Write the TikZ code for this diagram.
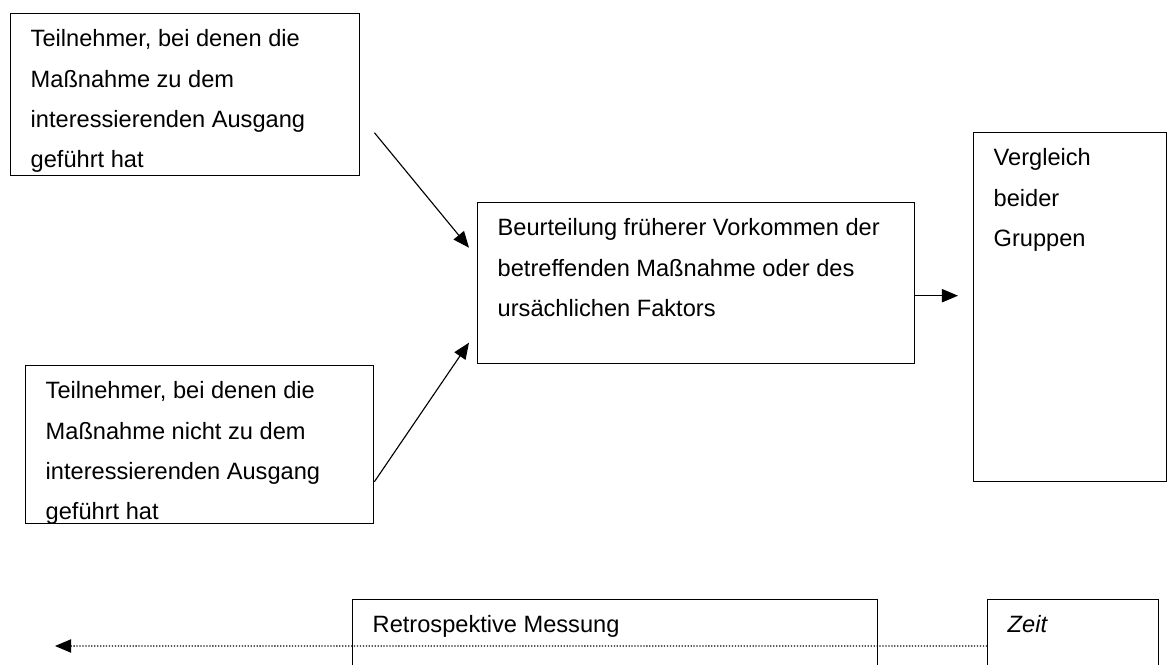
\documentclass[tikz,border=0pt]{standalone}
\usepackage{fontspec}
\setmainfont{Liberation Sans}
\usetikzlibrary{arrows.meta,calc}

% text block of a box: fixed size, text from the top
\newcommand{\boxtext}[3]{\parbox[t][#2][t]{#1}{\raggedright\rule{0pt}{23.5pt}#3}}

\begin{document}
\begin{tikzpicture}[
      every node/.style={font=\fontsize{16.8}{28.7}\selectfont},
      partBox/.style={draw,line width=1pt,anchor=north west,
                      inner xsep=0.5cm,inner ysep=0pt},
      arFlow/.style={-{Triangle[length=11.5pt,width=9.5pt]},line width=0.8pt},
      arTime/.style={-{Triangle[length=11.5pt,width=9.5pt]},line width=0.8pt,
                     dash pattern=on 0.9pt off 1.2pt}
    ]
    \useasboundingbox (0,0) rectangle (29.25,16.6);

    % Participants with the outcome
    \node(pos)[partBox] at (0.25,16.275) {%
      \boxtext{7.725cm}{4.05cm}{Teilnehmer, bei denen die\\Maßnahme zu dem\\
      interessierenden Ausgang\\geführt hat}};

    % Participants without the outcome
    \node(neg)[partBox] at (0.625,7.475) {%
      \boxtext{7.7cm}{3.95cm}{Teilnehmer, bei denen die\\Maßnahme nicht zu dem\\
      interessierenden Ausgang\\geführt hat}};

    % Assessment of earlier exposure
    \node(eval)[partBox] at (11.925,11.55) {%
      \boxtext{9.925cm}{4.025cm}{Beurteilung früherer Vorkommen der\\
      betreffenden Maßnahme oder des\\ursächlichen Faktors}};

    % Comparison
    \node(cmp)[partBox] at (24.325,13.3) {%
      \boxtext{3.825cm}{8.725cm}{Vergleich\\beider\\Gruppen}};

    % Time axis boxes
    \node(retro)[partBox] at (8.8,1.625) {%
      \boxtext{12.125cm}{3cm}{Retrospektive Messung}};
    \node(zeit)[partBox] at (24.675,1.625) {%
      \boxtext{3.275cm}{3cm}{\itshape Zeit}};

    % Flow arrows
    \draw[arFlow] ($(pos.east)+(0.35,-0.95)$) -- ($(eval.west)+(-0.2,0.8875)$);
    \draw[arFlow] ($(neg.east)+(0,-0.925)$) -- ($(eval.west)+(-0.2,-1.4875)$);
    \draw[arFlow] ($(eval.east)+(0,-0.3125)$) -- ($(eval.east -| cmp.west)+(-0.375,-0.3125)$);

    % Time runs backwards
    \coordinate (tEnd) at (1.375,0.45);
    \draw[arTime] ($(zeit.north west)+(0,-1.175)$) -- (tEnd);
  \end{tikzpicture}
\end{document}
